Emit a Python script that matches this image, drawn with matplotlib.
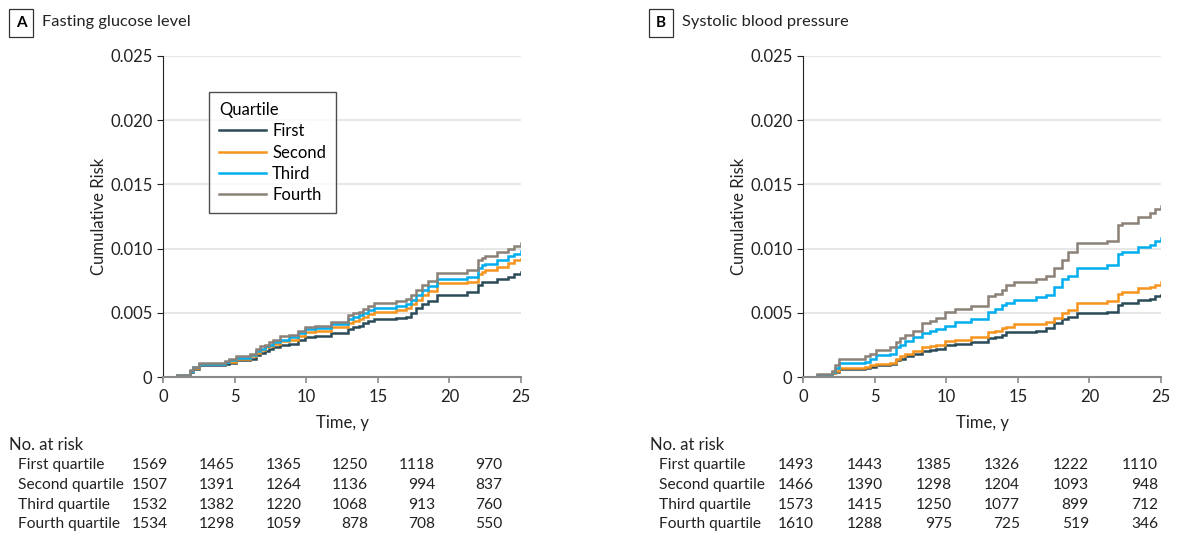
import matplotlib
matplotlib.use("Agg")
import matplotlib.pyplot as plt

plt.rcParams['font.family'] = ['Lato', 'DejaVu Sans']

# ---- data ----
quartiles = ["First", "Second", "Third", "Fourth"]
colors = ["#2b4a58", "#f7941d", "#00aeef", "#8b8178"]

# Panel A: fasting glucose level
timeA = [0, 0.95, 1.9, 2.1, 2.5, 4.3, 4.6, 5.1, 6.1, 6.5, 6.8, 7.1, 7.4, 7.7, 8.2,
         8.8, 9.45, 9.9, 10.6, 11.7, 12.9, 13.3, 13.7, 14.0, 14.3, 14.7, 16.3, 17.0,
         17.3, 17.7, 18.1, 18.5, 19.1, 21.2, 22.0, 22.3, 22.5, 23.3, 24.1, 24.5, 25]
glucFirst = [0, 0.0001, 0.0004, 0.0006, 0.0009, 0.001, 0.0011, 0.0013, 0.0014, 0.0017,
             0.0019, 0.0020, 0.0022, 0.0023, 0.0025, 0.0026, 0.0029, 0.0031, 0.0032, 0.0034,
             0.0037, 0.0039, 0.0040, 0.0042, 0.0044, 0.0045, 0.0046, 0.0047, 0.0050, 0.0054,
             0.0057, 0.0059, 0.0064, 0.0066, 0.0072, 0.0074, 0.0074, 0.0076, 0.0078, 0.0080,
             0.0082]
glucSecond = [0, 0.0001, 0.00045, 0.0007, 0.001, 0.00115, 0.0012, 0.0014, 0.0016, 0.0019,
              0.0021, 0.0023, 0.0024, 0.0026, 0.0028, 0.0029, 0.0032, 0.0035, 0.0036, 0.0039,
              0.0042, 0.0044, 0.0045, 0.0047, 0.0049, 0.0051, 0.0052, 0.0054, 0.0057, 0.0060,
              0.0064, 0.0067, 0.0073, 0.0074, 0.0080, 0.0082, 0.0083, 0.0086, 0.0089, 0.0091,
              0.0092]
glucThird = [0, 0.00012, 0.0005, 0.00075, 0.00105, 0.0012, 0.0013, 0.0015, 0.0017, 0.0020,
             0.0022, 0.0024, 0.0025, 0.0027, 0.0029, 0.0031, 0.0034, 0.0037, 0.0038, 0.0041,
             0.0045, 0.0047, 0.0048, 0.0050, 0.0052, 0.0054, 0.0055, 0.0057, 0.0060, 0.0064,
             0.0068, 0.0071, 0.0076, 0.0078, 0.0085, 0.0087, 0.0088, 0.0091, 0.0094, 0.0096,
             0.0098]
glucFourth = [0, 0.00013, 0.00054, 0.0008, 0.0011, 0.00125, 0.0014, 0.0016, 0.0018, 0.0022,
              0.0024, 0.0025, 0.0027, 0.0029, 0.0032, 0.0033, 0.0036, 0.0039, 0.0040, 0.0043,
              0.0048, 0.0050, 0.0051, 0.0053, 0.0055, 0.0058, 0.0059, 0.0061, 0.0064, 0.0068,
              0.0072, 0.0075, 0.0081, 0.0083, 0.0091, 0.0093, 0.0094, 0.0097, 0.0100, 0.0102,
              0.0104]

# Panel B: systolic blood pressure
timeB = [0, 0.95, 2.0, 2.2, 2.5, 4.3, 4.7, 5.1, 6.1, 6.5, 6.8, 7.1, 7.7, 8.3, 8.9, 9.3,
         9.9, 10.6, 11.7, 12.9, 13.4, 13.9, 14.2, 14.7, 16.3, 17.0, 17.5, 18.1, 18.5, 19.1,
         21.2, 22.0, 22.3, 23.4, 24.2, 24.6, 25]
sbpFirst = [0, 0.0001, 0.0003, 0.0004, 0.0006, 0.0007, 0.0008, 0.0009, 0.0010, 0.0013,
            0.0014, 0.0016, 0.0018, 0.0020, 0.0021, 0.0022, 0.0025, 0.0026, 0.0027, 0.0030,
            0.0031, 0.0033, 0.0035, 0.0035, 0.0036, 0.0038, 0.0042, 0.0045, 0.0047, 0.0050,
            0.0051, 0.0056, 0.0058, 0.0060, 0.0061, 0.0063, 0.0064]
sbpSecond = [0, 0.0001, 0.0003, 0.0005, 0.0007, 0.0008, 0.0009, 0.0010, 0.0011, 0.0014,
             0.0016, 0.0018, 0.0020, 0.0023, 0.0024, 0.0025, 0.0028, 0.0029, 0.0031, 0.0035,
             0.0036, 0.0038, 0.0039, 0.0041, 0.0041, 0.0043, 0.0046, 0.0050, 0.0052, 0.0058,
             0.0059, 0.0065, 0.0066, 0.0069, 0.0070, 0.0072, 0.0074]
sbpThird = [0, 0.00015, 0.0004, 0.0007, 0.0011, 0.0012, 0.0014, 0.0017, 0.0018, 0.0023,
            0.0025, 0.0028, 0.0031, 0.0034, 0.0036, 0.0037, 0.0040, 0.0043, 0.0045, 0.0051,
            0.0053, 0.0056, 0.0058, 0.0060, 0.0062, 0.0064, 0.0070, 0.0076, 0.0079, 0.0085,
            0.0087, 0.0096, 0.0097, 0.0101, 0.0103, 0.0106, 0.0108]
sbpFourth = [0, 0.0002, 0.0005, 0.0009, 0.0014, 0.0016, 0.0018, 0.0021, 0.0023, 0.0027,
             0.0030, 0.0033, 0.0036, 0.0042, 0.0044, 0.0046, 0.0051, 0.0053, 0.0055, 0.0063,
             0.0065, 0.0068, 0.0072, 0.0074, 0.0076, 0.0079, 0.0085, 0.0091, 0.0097, 0.0104,
             0.0106, 0.0118, 0.0120, 0.0125, 0.0128, 0.0131, 0.0133]

rowLabels = ["First quartile", "Second quartile", "Third quartile", "Fourth quartile"]
riskA = [[1569, 1465, 1365, 1250, 1118, 970],
         [1507, 1391, 1264, 1136, 994, 837],
         [1532, 1382, 1220, 1068, 913, 760],
         [1534, 1298, 1059, 878, 708, 550]]
riskB = [[1493, 1443, 1385, 1326, 1222, 1110],
         [1466, 1390, 1298, 1204, 1093, 948],
         [1573, 1415, 1250, 1077, 899, 712],
         [1610, 1288, 975, 725, 519, 346]]

yticks = [0, 0.005, 0.010, 0.015, 0.020, 0.025]
yticklabels = ["0", "0.005", "0.010", "0.015", "0.020", "0.025"]
xticks = [0, 5, 10, 15, 20, 25]

W, H = 1183, 535
FS = 11.2
fig = plt.figure(figsize=(W / 100, H / 100), dpi=100)


def px(x, y):
    return x / W, 1 - y / H


def drawPanel(left, time, series, letter, title, risk, colX, labelX, showLegend):
    ax = fig.add_axes([left / W, (H - 377) / H, 358 / W, 321 / H])
    for s, c, name in zip(series, colors, quartiles):
        ax.plot(time, s, drawstyle='steps-post', color=c, lw=1.8, label=name,
                solid_joinstyle='miter')
    ax.set_xlim(0, 25)
    ax.set_ylim(0, 0.025)
    ax.set_xticks(xticks)
    ax.set_yticks(yticks)
    ax.set_yticklabels(yticklabels)
    ax.yaxis.grid(True, color='#e3e3e3', lw=1.2)
    ax.set_axisbelow(True)
    for sp in ['top', 'right']:
        ax.spines[sp].set_visible(False)
    ax.spines['left'].set_color('#222222')
    ax.spines['bottom'].set_color('#8a8a8a')
    ax.spines['bottom'].set_linewidth(1.5)
    ax.tick_params(axis='y', colors='#222222', labelsize=FS + 0.8, length=4)
    ax.tick_params(axis='x', colors='#8a8a8a', labelcolor='#222222', labelsize=FS + 0.8,
                   length=4, width=1.2, pad=5)
    ax.set_xlabel("Time, y", fontsize=FS + 0.8, color='#222222', labelpad=7)
    ax.set_ylabel("Cumulative Risk", fontsize=FS + 0.8, color='#222222', labelpad=2)

    # panel heading
    fig.text(*px(left - 142, 23), letter, fontsize=11, fontweight='bold', ha='center',
             va='center',
             bbox=dict(boxstyle='square,pad=0.45', fc='white', ec='#333333', lw=0.9))
    fig.text(*px(left - 121, 22), title, fontsize=11.8, ha='left', va='center',
             color='#222222')

    # number at risk table
    fig.text(*px(labelX - 9, 445), "No. at risk", fontsize=FS + 0.8, ha='left',
             va='center', color='#222222')
    for r, (lab, vals) in enumerate(zip(rowLabels, risk)):
        yy = 465 + r * 19.8
        fig.text(*px(labelX, yy), lab, fontsize=FS, ha='left', va='center',
                 color='#222222')
        for cx, v in zip(colX, vals):
            fig.text(*px(cx, yy), str(v), fontsize=FS, ha='right', va='center',
                     color='#222222')

    if showLegend:
        leg = ax.legend(loc='upper left', bbox_to_anchor=(0.128, 0.888), title="Quartile",
                        fontsize=FS + 0.8, title_fontsize=FS + 0.8, frameon=True,
                        fancybox=False, borderaxespad=0, handlelength=2.85,
                        handletextpad=0.35, borderpad=0.6, labelspacing=0.32,
                        alignment='left')
        leg.get_frame().set_edgecolor('#222222')
        leg.get_frame().set_linewidth(1.0)
    return ax


drawPanel(163, timeA, [glucFirst, glucSecond, glucThird, glucFourth], "A",
          "Fasting glucose level", riskA, [168, 235, 302, 368, 435, 502], 18, True)
drawPanel(803, timeB, [sbpFirst, sbpSecond, sbpThird, sbpFourth], "B",
          "Systolic blood pressure", riskB, [814, 883, 952, 1020, 1089, 1158], 659, False)

fig.savefig("out.png", dpi=100)
